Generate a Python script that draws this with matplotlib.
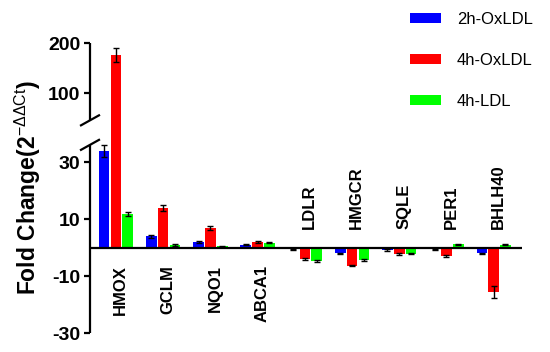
import numpy as np
import matplotlib
matplotlib.use("Agg")
import matplotlib.pyplot as plt
from matplotlib.lines import Line2D
from matplotlib.patches import Patch

plt.rcParams['font.family'] = ['Liberation Sans', 'DejaVu Sans']
plt.rcParams['mathtext.fontset'] = 'custom'
plt.rcParams['mathtext.rm'] = 'Liberation Sans'
plt.rcParams['mathtext.bf'] = 'Liberation Sans:bold'

genes = ["HMOX", "GCLM", "NQO1", "ABCA1", "LDLR", "HMGCR", "SQLE", "PER1", "BHLH40"]
series = ["2h-OxLDL", "4h-OxLDL", "4h-LDL"]
colors = ["#0000FF", "#FF0000", "#00FF00"]

ox2h = [34.0, 4.0, 2.0, 1.0, -0.5, -2.0, -0.8, -0.6, -2.0]
ox2h_err = [2.2, 0.4, 0.3, 0.2, 0.2, 0.3, 0.2, 0.2, 0.3]
ox4h = [176.0, 14.0, 7.0, 2.0, -4.0, -6.3, -2.3, -3.0, -15.5]
ox4h_err = [14.0, 1.2, 0.8, 0.3, 0.3, 0.3, 0.3, 0.4, 2.2]
ldl4h = [12.0, 1.0, 0.5, 1.8, -4.6, -4.3, -2.1, 1.2, 1.0]
ldl4h_err = [0.7, 0.4, 0.2, 0.3, 0.3, 0.4, 0.2, 0.2, 0.2]

values = [ox2h, ox4h, ldl4h]
errors = [ox2h_err, ox4h_err, ldl4h_err]

lower_ticks = [-30, -10, 10, 30]
upper_ticks = [100, 200]

# broken axis scale (piecewise linear)
B1, B2 = 36.7, 44.0
s1, s2 = 2.83, 0.5
P1 = B1 * s1
P2 = P1 + 22.0

def fwd(y):
    y = np.asarray(y, float)
    mid = P1 + (y - B1) * (P2 - P1) / (B2 - B1)
    return np.where(y <= B1, y * s1, np.where(y >= B2, P2 + (y - B2) * s2, mid))

def inv(p):
    p = np.asarray(p, float)
    mid = B1 + (p - P1) * (B2 - B1) / (P2 - P1)
    return np.where(p <= P1, p / s1, np.where(p >= P2, B2 + (p - P2) / s2, mid))

W, H = 550, 352
fig = plt.figure(figsize=(W / 100, H / 100), dpi=100)
ax = fig.add_axes([90 / W, 1 - 333 / H, (522 - 90) / W, (333 - 43) / H])
ax.set_yscale('function', functions=(fwd, inv))
ax.set_ylim(-30, 200)
ax.set_xlim(-0.55, 8.6)

x = np.arange(len(genes))
bw = 0.25
for k in range(3):
    ax.bar(x + (k - 1) * bw, values[k], width=bw * 0.9, color=colors[k],
           yerr=errors[k], error_kw=dict(ecolor='black', elinewidth=1.0, capsize=2.2, capthick=1.0),
           label=series[k], zorder=2)

for sp in ['top', 'right', 'bottom', 'left']:
    ax.spines[sp].set_visible(False)
ax.axhline(0, color='black', lw=1.6, zorder=3)
ax.set_xticks([])
ax.set_yticks(lower_ticks + upper_ticks)
ax.set_yticklabels([str(t) for t in lower_ticks + upper_ticks], fontsize=14, fontweight='bold')
ax.tick_params(axis='y', length=4, width=1.6, pad=3)
ax.yaxis.set_minor_locator(matplotlib.ticker.NullLocator())

# broken left axis line
yt = ax.get_yaxis_transform()
ax.plot([0, 0], [-30, B1 - 0.5], color='black', lw=1.6, transform=yt, clip_on=False, solid_capstyle='butt')
ax.plot([0, 0], [B2 + 2, 200], color='black', lw=1.6, transform=yt, clip_on=False, solid_capstyle='butt')
fig.canvas.draw()
for yb in [B1 - 0.5, B2 + 2]:
    px, py = ax.transData.transform((ax.get_xlim()[0], yb))
    fig.add_artist(Line2D([px - 9, px + 9], [py - 5, py + 5], color='black', lw=1.6, transform=None))

# gene labels
for i, g in enumerate(genes):
    pos = values[1][i] > 0
    if pos:
        ax.text(i + 0.1, -6.0, g, rotation=90, ha='center', va='top', fontsize=12, fontweight='bold')
    else:
        ax.text(i + 0.1, 6.7, g, rotation=90, ha='center', va='bottom', fontsize=12, fontweight='bold')

fig.text(28 / W, 1 - 188 / H, r'Fold Change(2$^{\mathrm{-ΔΔCt}}$)', rotation=90,
         ha='center', va='center', fontsize=16.5, fontweight='bold')

handles = [Patch(facecolor=c, edgecolor='none') for c in colors]
fig.legend(handles, series, loc='upper left', bbox_to_anchor=(410 / W, 1 - 12 / H),
           frameon=False, fontsize=12, handlelength=1.85, handleheight=0.5,
           handletextpad=0.95, labelspacing=1.55, borderpad=0, borderaxespad=0)

fig.savefig('out.png', dpi=100)
